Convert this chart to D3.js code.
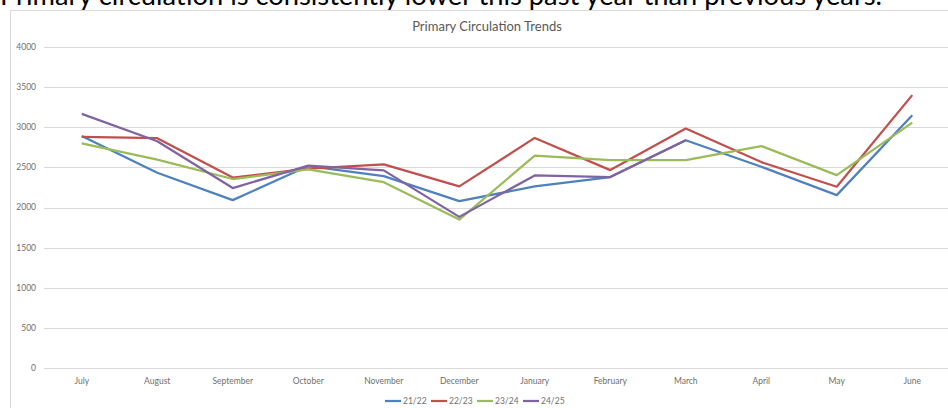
<html>
<head>
<meta http-equiv="content-type" content="text/html; charset=UTF8">
<title>Primary Circulation Trends</title>
</head>
<style type="text/css">
body { margin: 0; padding: 0; overflow: hidden; background: #fff; }
svg { display: block; font-family: Lato, "Open Sans", sans-serif; }
.grid line { stroke: #d9d9d9; stroke-width: 1; }
.tick-label { fill: #6f6f6f; font-size: 8.5px; }
</style>
<body>
<div id="chart"></div>
<script type="text/javascript" src="https://cdnjs.cloudflare.com/ajax/libs/d3/7.8.5/d3.min.js"></script>
<script type="text/javascript">

var months = ["July", "August", "September", "October", "November", "December",
              "January", "February", "March", "April", "May", "June"];
var seriesNames = ["21/22", "22/23", "23/24", "24/25"];
var colors = ["#4f81bd", "#c0504d", "#9bbb59", "#8064a2"];
var yTicks = [0, 500, 1000, 1500, 2000, 2500, 3000, 3500, 4000];

var s2122 = [2890, 2433, 2092, 2516, 2391, 2079, 2263, 2379, 2838, 2508, 2154, 3150];
var s2223 = [2880, 2863, 2373, 2483, 2538, 2263, 2867, 2466, 2984, 2566, 2259, 3400];
var s2324 = [2800, 2596, 2355, 2475, 2316, 1850, 2646, 2591, 2591, 2766, 2404, 3058];
var s2425 = [3167, 2825, 2242, 2521, 2463, 1883, 2400, 2379, 2838, null, null, null];
var series = [s2122, s2223, s2324, s2425];

var W = 948, H = 408;
var svg = d3.select("#chart").append("svg").attr("width", W).attr("height", H);

// headline text from the slide, cut off at the top like in the screenshot
svg.append("text")
    .attr("x", 0).attr("y", 5)
    .attr("textLength", 882).attr("lengthAdjust", "spacingAndGlyphs")
    .style("font-size", "26px").style("fill", "#000")
    .text("Primary circulation is consistently lower this past year than previous years.");

// chart frame
svg.append("rect")
    .attr("x", 10.5).attr("y", 10.5)
    .attr("width", 960).attr("height", 420)
    .attr("fill", "#fff").attr("stroke", "#d9d9d9");

svg.append("text")
    .attr("x", 487).attr("y", 31)
    .attr("text-anchor", "middle")
    .style("font-size", "13px").style("fill", "#595959")
    .text("Primary Circulation Trends");

var x = d3.scaleBand().domain(months).range([44, 950]);
var y = d3.scaleLinear().domain([0, 4000]).range([368, 47]);

var grid = svg.append("g").attr("class", "grid");
grid.selectAll("line").data(yTicks).enter().append("line")
    .attr("x1", 44).attr("x2", 950)
    .attr("y1", function(d){ return Math.round(y(d)) + 0.5; })
    .attr("y2", function(d){ return Math.round(y(d)) + 0.5; });

svg.selectAll(".ylab").data(yTicks).enter().append("text")
    .attr("class", "tick-label")
    .attr("x", 36).attr("y", function(d){ return y(d); })
    .attr("dy", "0.35em").attr("text-anchor", "end")
    .text(function(d){ return d; });

svg.selectAll(".xlab").data(months).enter().append("text")
    .attr("class", "tick-label")
    .attr("x", function(d){ return x(d) + x.bandwidth() / 2; })
    .attr("y", 381).attr("dy", "0.35em").attr("text-anchor", "middle")
    .text(function(d){ return d; });

var line = d3.line()
    .defined(function(d){ return d != null; })
    .x(function(d, i){ return x(months[i]) + x.bandwidth() / 2; })
    .y(function(d){ return y(d); });

series.forEach(function(s, i){
    svg.append("path")
        .attr("d", line(s))
        .attr("fill", "none")
        .attr("stroke", colors[i])
        .attr("stroke-width", 2.25)
        .attr("stroke-linejoin", "round");
});

// legend
var legendX = [385, 431, 477, 523];
var legend = svg.selectAll(".legend").data(seriesNames).enter().append("g")
    .attr("transform", function(d, i){ return "translate(" + legendX[i] + ",401)"; });
legend.append("line")
    .attr("x1", 0).attr("x2", 16)
    .attr("stroke", function(d, i){ return colors[i]; })
    .attr("stroke-width", 2.25);
legend.append("text")
    .attr("class", "tick-label")
    .attr("x", 18).attr("dy", "0.35em")
    .text(function(d){ return d; });

</script>
</body>
</html>
